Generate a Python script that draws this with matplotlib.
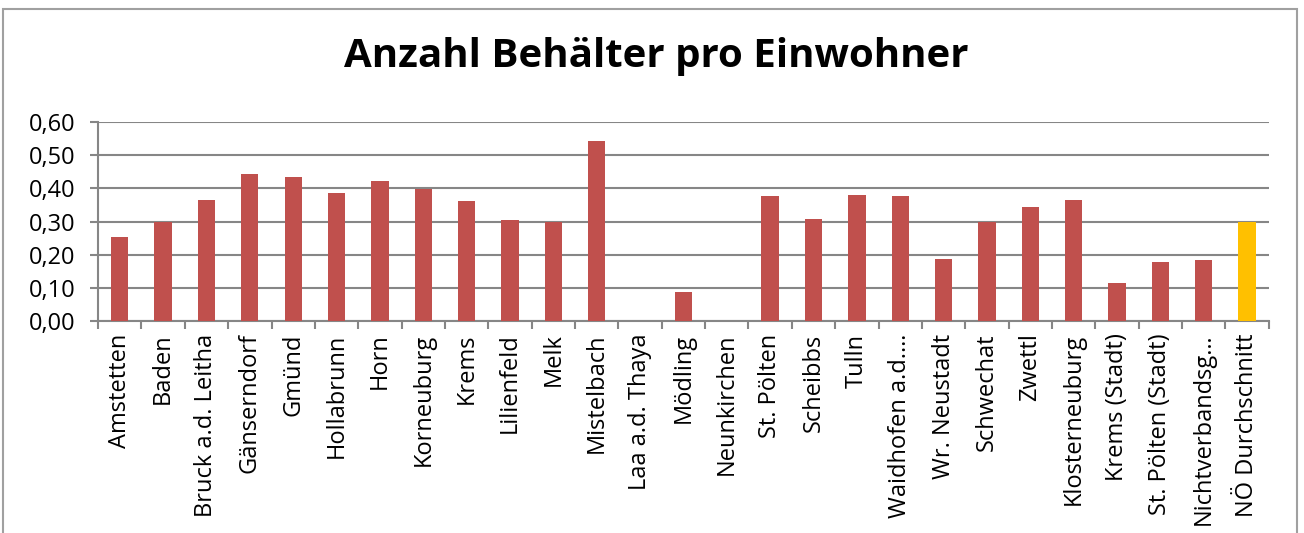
import matplotlib
matplotlib.use('Agg')
import matplotlib.pyplot as plt
from matplotlib.patches import Rectangle
import numpy as np

plt.rcParams['font.family'] = ['Open Sans', 'DejaVu Sans']

regions = ['Amstetten', 'Baden', 'Bruck a.d. Leitha', 'Gänserndorf', 'Gmünd',
           'Hollabrunn', 'Horn', 'Korneuburg', 'Krems', 'Lilienfeld', 'Melk',
           'Mistelbach', 'Laa a.d. Thaya', 'Mödling', 'Neunkirchen', 'St. Pölten',
           'Scheibbs', 'Tulln', 'Waidhofen a.d.…', 'Wr. Neustadt', 'Schwechat',
           'Zwettl', 'Klosterneuburg', 'Krems (Stadt)', 'St. Pölten (Stadt)',
           'Nichtverbandsg…', 'NÖ Durchschnitt']
values = [0.253, 0.300, 0.364, 0.443, 0.433, 0.385, 0.423, 0.398, 0.362, 0.306,
          0.298, 0.543, 0.0, 0.088, 0.0, 0.376, 0.309, 0.379, 0.378, 0.186,
          0.300, 0.343, 0.364, 0.115, 0.178, 0.184, 0.298]
yticks = [0.0, 0.1, 0.2, 0.3, 0.4, 0.5, 0.6]

colors = ['#C0504D'] * (len(values) - 1) + ['#FFC000']

fig = plt.figure(figsize=(13.04, 5.33), dpi=100)
ax = fig.add_axes([0.0752, 0.3977, 0.8978, 0.3733])

x = np.arange(len(values))
ax.bar(x, values, width=0.4, color=colors, zorder=3)

ax.set_xlim(-0.5, len(values) - 0.5)
ax.set_ylim(0, 0.6)
ax.set_yticks(yticks)
ax.set_yticklabels([f'{v:.2f}'.replace('.', ',') for v in yticks], fontsize=17)
ax.set_xticks(x)
ax.set_xticklabels(regions, rotation=90, fontsize=17)
ax.set_xticks(np.arange(len(values) + 1) - 0.5, minor=True)
ax.tick_params(axis='x', which='major', length=0, pad=9)
ax.tick_params(axis='x', which='minor', length=6, width=1.5, color='#868686')
ax.tick_params(axis='y', length=6, width=1.5, color='#868686', pad=10)

ax.yaxis.grid(True, color='#868686', linewidth=1.5, zorder=0)
for side in ['top', 'right']:
    ax.spines[side].set_visible(False)
for side in ['left', 'bottom']:
    ax.spines[side].set_color('#868686')
    ax.spines[side].set_linewidth(1.5)

fig.text(0.503, 1 - 67 / 533, 'Anzahl Behälter pro Einwohner', ha='center',
         va='baseline', fontsize=29, fontweight='bold')

# chart frame
fig.patches.append(Rectangle((3 / 1304, -0.05), 1294 / 1304, 1.05 - 9 / 533,
                             transform=fig.transFigure, fill=False,
                             edgecolor='#a0a0a0', linewidth=1.5))

fig.savefig('out.png', dpi=100)
